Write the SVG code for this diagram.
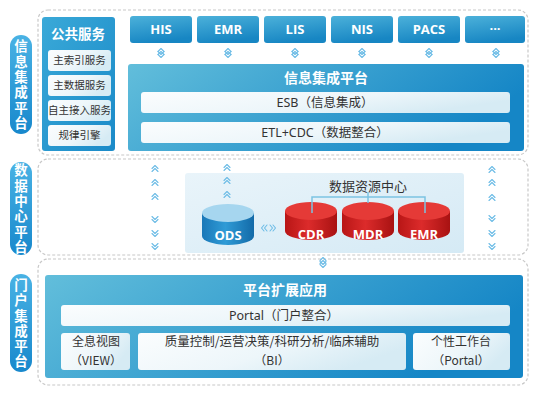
<svg xmlns="http://www.w3.org/2000/svg" xmlns:xlink="http://www.w3.org/1999/xlink" width="535" height="400" viewBox="0 0 535 400">
<style>
.region{fill:#fff;stroke:#c8c8c8;stroke-width:1.2;stroke-dasharray:3 2}
.pillt{font-family:"Noto Sans CJK SC","Noto Sans",sans-serif;font-weight:bold;font-size:13.5px;fill:#fff;text-anchor:middle;writing-mode:vertical-rl;letter-spacing:1.8px}
.title{font-family:"Noto Sans CJK SC","Noto Sans",sans-serif;font-weight:bold;font-size:14px;fill:#fff;text-anchor:middle}
.sys{font-family:"Open Sans","Noto Sans CJK SC",sans-serif;font-weight:bold;font-size:13px;fill:#fff;text-anchor:middle}
.sub{font-family:"Noto Sans CJK SC","Noto Sans",sans-serif;font-size:10.5px;fill:#333;text-anchor:middle}
.bar{font-family:"Noto Sans","Noto Sans CJK SC",sans-serif;font-size:12.5px;fill:#333;text-anchor:middle}
.lbl{font-family:"Noto Sans CJK SC","Noto Sans",sans-serif;font-size:12.5px;fill:#333;text-anchor:middle}
.lbl2{font-family:"Noto Sans CJK SC","Noto Sans",sans-serif;font-size:12px;fill:#333;text-anchor:middle}
.white{fill:url(#wg)}
.chev{fill:none;stroke:#6dbce6;stroke-width:1.1;stroke-linecap:round;stroke-linejoin:round}
.conn{fill:none;stroke:#7cc3e2;stroke-width:1.5}
</style>
<defs>
<linearGradient id="pill" x1="0" y1="0" x2="0" y2="1"><stop offset="0" stop-color="#49b2e4"/><stop offset="1" stop-color="#1888cc"/></linearGradient>
<linearGradient id="panel" x1="0" y1="0" x2="1" y2="0.3"><stop offset="0" stop-color="#62bedb"/><stop offset="1" stop-color="#1586c6"/></linearGradient>
<linearGradient id="pub" x1="0" y1="0" x2="1" y2="1"><stop offset="0" stop-color="#3aa9d8"/><stop offset="1" stop-color="#1a8ac8"/></linearGradient>
<linearGradient id="sysg" x1="0" y1="0" x2="0.3" y2="1"><stop offset="0" stop-color="#4cb1da"/><stop offset="1" stop-color="#1786c3"/></linearGradient>
<linearGradient id="wg" x1="0" y1="0" x2="1" y2="0.4"><stop offset="0" stop-color="#fbfdfe"/><stop offset="0.6" stop-color="#edf6fa"/><stop offset="1" stop-color="#d6ebf4"/></linearGradient>
<linearGradient id="dc" x1="0" y1="0" x2="1" y2="1"><stop offset="0" stop-color="#e9f4fa"/><stop offset="1" stop-color="#d5eaf5"/></linearGradient>
<linearGradient id="bcyl" x1="0" y1="0" x2="1" y2="0"><stop offset="0" stop-color="#1a78b8"/><stop offset="0.45" stop-color="#2f9bd6"/><stop offset="1" stop-color="#136aa8"/></linearGradient>
<linearGradient id="rcyl" x1="0" y1="0" x2="1" y2="0"><stop offset="0" stop-color="#b81616"/><stop offset="0.45" stop-color="#dc2b2b"/><stop offset="1" stop-color="#a81212"/></linearGradient>
<g id="up"><polyline class="chev" points="-3,1.5 0,-1.5 3,1.5"/><polyline class="chev" points="-3,4.5 0,1.5 3,4.5"/></g>
<g id="dn"><polyline class="chev" points="-3,-4.5 0,-1.5 3,-4.5"/><polyline class="chev" points="-3,-1.5 0,1.5 3,-1.5"/></g>
</defs>

<!-- regions -->
<g id="regions">
<rect class="region" x="38" y="10" width="490" height="145" rx="10"/>
<rect class="region" x="38" y="159" width="490" height="96" rx="10"/>
<rect class="region" x="38" y="259" width="490" height="126" rx="10"/>
</g>

<!-- side labels -->
<g id="label-info">
<rect x="10" y="35" width="22" height="99" rx="11" fill="url(#pill)"/>
<text class="pillt" x="21" y="85.5">信息集成平台</text>
</g>
<g id="label-data">
<rect x="10" y="162" width="22" height="93" rx="11" fill="url(#pill)"/>
<text class="pillt" x="21" y="209.5">数据中心平台</text>
</g>
<g id="label-portal">
<rect x="10" y="274" width="22" height="98" rx="11" fill="url(#pill)"/>
<text class="pillt" x="21" y="324">门户集成平台</text>
</g>

<!-- public services -->
<g id="public-services">
<rect x="42" y="17" width="73" height="134" rx="3" fill="url(#pub)"/>
<text class="title" x="78" y="39" style="font-size:13.5px">公共服务</text>
<rect class="white" x="48" y="50" width="63" height="21" rx="3"/>
<text class="sub" x="79.5" y="64">主索引服务</text>
<rect class="white" x="48" y="75" width="63" height="21" rx="3"/>
<text class="sub" x="79.5" y="89">主数据服务</text>
<rect class="white" x="48" y="100" width="63" height="21" rx="3"/>
<text class="sub" x="79.5" y="114">自主接入服务</text>
<rect class="white" x="48" y="125" width="63" height="21" rx="3"/>
<text class="sub" x="79.5" y="139">规律引擎</text>
</g>

<!-- systems -->
<g id="sys-his"><rect x="130" y="16" width="62" height="27" rx="3" fill="url(#sysg)"/><text class="sys" x="161" y="34">HIS</text></g>
<g id="sys-emr"><rect x="197" y="16" width="62" height="27" rx="3" fill="url(#sysg)"/><text class="sys" x="228" y="34">EMR</text></g>
<g id="sys-lis"><rect x="264" y="16" width="62" height="27" rx="3" fill="url(#sysg)"/><text class="sys" x="295" y="34">LIS</text></g>
<g id="sys-nis"><rect x="331" y="16" width="62" height="27" rx="3" fill="url(#sysg)"/><text class="sys" x="362" y="34">NIS</text></g>
<g id="sys-pacs"><rect x="398" y="16" width="62" height="27" rx="3" fill="url(#sysg)"/><text class="sys" x="429" y="34">PACS</text></g>
<g id="sys-more"><rect x="465" y="16" width="60" height="27" rx="3" fill="url(#sysg)"/><text class="sys" x="495" y="33">···</text></g>

<!-- info integration platform -->
<g id="info-platform">
<rect x="128" y="64" width="396" height="87" rx="3" fill="url(#panel)"/>
<text class="title" x="326" y="83">信息集成平台</text>
<rect class="white" x="141" y="92" width="369" height="21" rx="3"/>
<text class="bar" x="325" y="107">ESB（信息集成）</text>
<rect class="white" x="141" y="122" width="369" height="21" rx="3"/>
<text class="bar" x="325" y="137">ETL+CDC（数据整合）</text>
</g>

<!-- data resource center -->
<g id="data-center">
<rect x="185" y="173" width="279" height="80" rx="3" fill="url(#dc)"/>
<text class="lbl" x="368" y="191" style="font-size:13px">数据资源中心</text>
</g>
<g id="ods">
<path d="M202,213 L202,236 A26,9 0 0 0 254,236 L254,213 Z" fill="url(#bcyl)"/>
<ellipse cx="228" cy="213" rx="26" ry="9" fill="#a6d6ef"/>
<text class="sys" x="228" y="240">ODS</text>
</g>
<g id="cdr">
<path d="M285,211 L285,231 A26,9 0 0 0 337,231 L337,211 Z" fill="url(#rcyl)"/>
<ellipse cx="311" cy="211" rx="26" ry="9" fill="#e53a37"/>
<text class="sys" x="311" y="239">CDR</text>
</g>
<g id="mdr">
<path d="M342,211 L342,231 A26,9 0 0 0 394,231 L394,211 Z" fill="url(#rcyl)"/>
<ellipse cx="368" cy="211" rx="26" ry="9" fill="#e53a37"/>
<text class="sys" x="368" y="239">MDR</text>
</g>
<g id="emr-db">
<path d="M398,211 L398,231 A26,9 0 0 0 450,231 L450,211 Z" fill="url(#rcyl)"/>
<ellipse cx="424" cy="211" rx="26" ry="9" fill="#e53a37"/>
<text class="sys" x="424" y="239">EMR</text>
</g>

<!-- portal platform -->
<g id="portal-platform">
<rect x="45" y="275" width="478" height="103" rx="3" fill="url(#panel)"/>
<text class="title" x="285" y="295">平台扩展应用</text>
<rect class="white" x="61" y="305" width="449" height="21" rx="3"/>
<text class="bar" x="284" y="320">Portal（门户整合）</text>
</g>
<g id="view">
<rect class="white" x="61" y="333" width="69" height="37" rx="3"/>
<text class="lbl2" x="96" y="346">全息视图</text>
<text class="lbl2" x="96" y="364.5">（VIEW）</text>
</g>
<g id="bi">
<rect class="white" x="138" y="333" width="268" height="37" rx="3"/>
<text class="lbl2" x="272" y="346" style="font-size:12.5px">质量控制/运营决策/科研分析/临床辅助</text>
<text class="lbl2" x="272" y="364.5">（BI）</text>
</g>
<g id="workbench">
<rect class="white" x="413" y="333" width="97" height="37" rx="3"/>
<text class="lbl2" x="461" y="346">个性工作台</text>
<text class="lbl2" x="461" y="364.5">（Portal）</text>
</g>

<!-- connectors -->
<g id="connectors">
<path class="conn" d="M368,192 V197 M312,213 V197 H425 V213 M368,197 V203"/>
<use href="#up" x="161" y="50"/><use href="#dn" x="161" y="56"/>
<use href="#up" x="228" y="50"/><use href="#dn" x="228" y="56"/>
<use href="#up" x="295" y="50"/><use href="#dn" x="295" y="56"/>
<use href="#up" x="362" y="50"/><use href="#dn" x="362" y="56"/>
<use href="#up" x="429" y="50"/><use href="#dn" x="429" y="56"/>
<use href="#up" x="496" y="50"/><use href="#dn" x="496" y="56"/>
<use href="#up" x="155" y="167"/><use href="#up" x="155" y="181"/><use href="#up" x="155" y="195"/>
<use href="#dn" x="155" y="221"/><use href="#dn" x="155" y="235"/><use href="#dn" x="155" y="248"/>
<use href="#up" x="227" y="166"/><use href="#up" x="227" y="179"/><use href="#up" x="227" y="193"/>
<use href="#up" x="492" y="168"/><use href="#up" x="492" y="181"/><use href="#up" x="492" y="196"/>
<use href="#dn" x="492" y="220"/><use href="#dn" x="492" y="235"/><use href="#dn" x="492" y="248"/>
<use href="#up" x="323" y="259"/><use href="#dn" x="323" y="266"/>
<polyline class="chev" points="264,225 261.5,228 264,231"/><polyline class="chev" points="267,225 264.5,228 267,231"/>
<polyline class="chev" points="270,225 272.5,228 270,231"/><polyline class="chev" points="273,225 275.5,228 273,231"/>
</g>
</svg>
